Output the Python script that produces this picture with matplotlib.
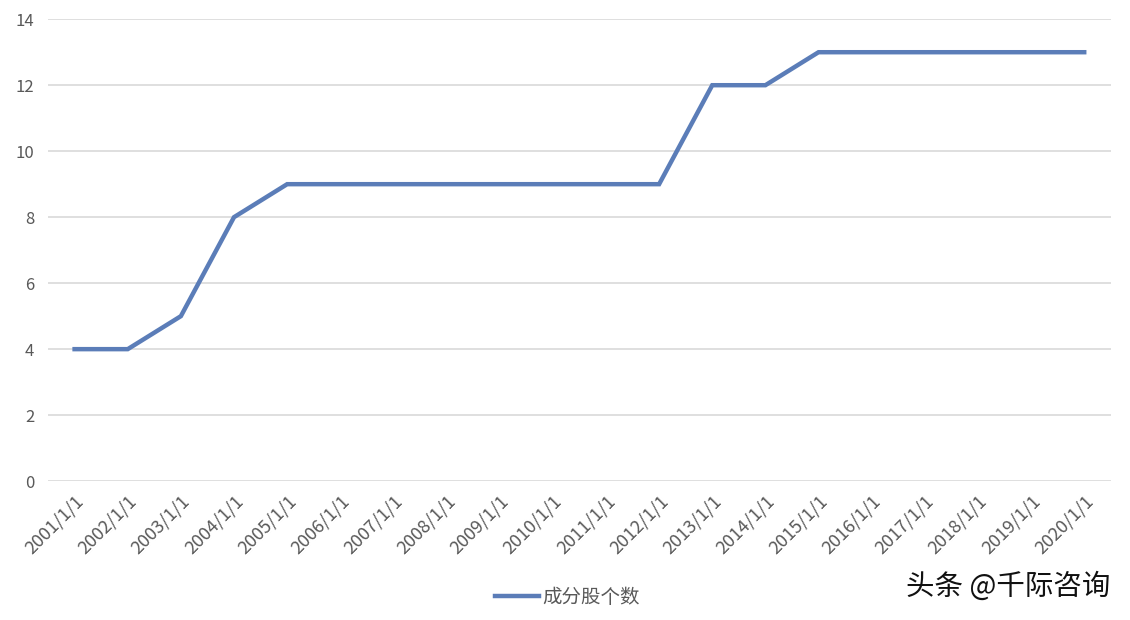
import matplotlib.pyplot as plt

plt.rcParams['font.family'] = ['Noto Sans CJK SC', 'DejaVu Sans']

dates = ['2001/1/1', '2002/1/1', '2003/1/1', '2004/1/1', '2005/1/1',
         '2006/1/1', '2007/1/1', '2008/1/1', '2009/1/1', '2010/1/1',
         '2011/1/1', '2012/1/1', '2013/1/1', '2014/1/1', '2015/1/1',
         '2016/1/1', '2017/1/1', '2018/1/1', '2019/1/1', '2020/1/1']
counts = [4, 4, 5, 8, 9, 9, 9, 9, 9, 9, 9, 9, 12, 12, 13, 13, 13, 13, 13, 13]
y_ticks = [0, 2, 4, 6, 8, 10, 12, 14]

fig = plt.figure(figsize=(11.3, 6.2), dpi=100)
ax = fig.add_axes([0.0425, 0.224, 0.9405, 0.745])

x = list(range(len(dates)))
ax.plot(x, counts, color='#5b7db8', linewidth=3.2, solid_joinstyle='miter',
        label='成分股个数')

ax.set_xlim(-0.5, len(dates) - 0.5)
ax.set_ylim(0, 14)
ax.set_yticks(y_ticks)
ax.set_xticks(x)
ax.set_xticklabels(dates, rotation=45, ha='right', rotation_mode='anchor')
ax.tick_params(axis='both', length=0, labelsize=12, colors='#595959')
ax.tick_params(axis='x', pad=8, labelsize=13)
ax.tick_params(axis='y', pad=10)
ax.grid(axis='y', color='#d9d9d9', linewidth=1.2)
ax.set_axisbelow(True)
for s in ax.spines.values():
    s.set_visible(False)

leg = fig.legend(loc='center', bbox_to_anchor=(0.502, 0.036), frameon=False,
                 fontsize=14, handlelength=2.3, handletextpad=0.15)
for t in leg.get_texts():
    t.set_color('#595959')

fig.text(0.983, 0.054, '头条 @千际咨询', ha='right', va='center',
         fontsize=20.5, color='#111111')

fig.savefig('out.png', dpi=100)
